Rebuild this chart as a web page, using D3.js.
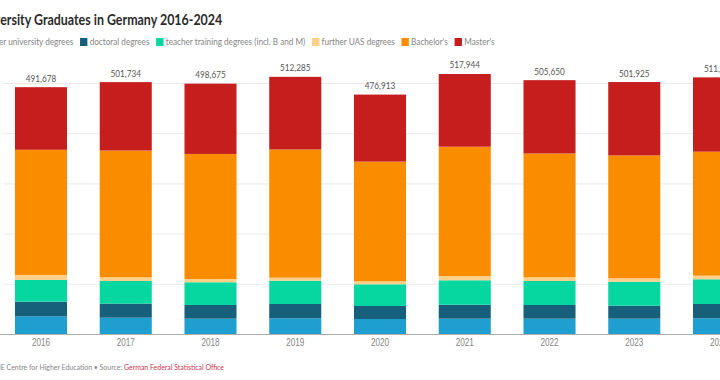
<!DOCTYPE html>
<html>
  <head>
    <meta charset="utf-8">
    <title>University Graduates in Germany 2016-2024</title>
    <script src="https://d3js.org/d3.v7.min.js"></script>
    <style>
      body { margin: 0; background: #fff; }
      svg { display: block; font-family: Lato, "Open Sans", sans-serif; }
      .grid line { stroke: #e8e8e8; }
      .grid .domain { display: none; }
      .xAxis .domain { stroke: #a8a8a8; }
      .xAxis text { fill: #858585; font-size: 10px; }
    </style>
  </head>
  <body>
    <!-- chart is drawn in a wider virtual space and squeezed into 720px -->
    <svg id="chart" width="720" height="380" viewBox="0 0 880 380" preserveAspectRatio="none">
      <g id="gridGroup"></g>
      <g id="barGroup"></g>
      <g id="axisGroup"></g>
      <g id="labelGroup"></g>
      <g id="legendGroup"></g>
    </svg>
    <script>
      // data
      years = ["2016", "2017", "2018", "2019", "2020", "2021", "2022", "2023", "2024"];
      otherUni   = [35300, 32500, 30500, 31300, 29900, 30500, 30500, 30500, 31300];
      doctoral   = [29100, 27900, 27300, 28500, 25900, 27900, 27300, 25900, 28500];
      teacher    = [43200, 45200, 45200, 46400, 43200, 48600, 47800, 47800, 49200];
      furtherUAS = [10000, 7400, 6600, 6000, 6000, 8600, 7400, 6800, 7200];
      bachelor   = [249378, 252434, 249075, 255485, 238413, 257544, 246650, 244725, 247000];
      master     = [124700, 136300, 140000, 144600, 133500, 144800, 146000, 146200, 148000];
      totals     = [491678, 501734, 498675, 512285, 476913, 517944, 505650, 501925, 511200];
      seriesNames = ["other university degrees", "doctoral degrees", "teacher training degrees (incl. B and M)", "further UAS degrees", "Bachelor's", "Master's"];
      seriesColors = ["#1f9fcf", "#17607c", "#06d6a0", "#ffd08a", "#fa8c00", "#c61d1d"];
      yTicks = [0, 100000, 200000, 300000, 400000, 500000];

      keys = ["otherUni", "doctoral", "teacher", "furtherUAS", "bachelor", "master"];
      rows = years.map(function(yr, i) {
        return {
          year: yr,
          otherUni: otherUni[i],
          doctoral: doctoral[i],
          teacher: teacher[i],
          furtherUAS: furtherUAS[i],
          bachelor: bachelor[i],
          master: master[i],
          total: totals[i]
        };
      });

      chart = d3.select("#chart");
      gridGroup = d3.select("#gridGroup");
      barGroup = d3.select("#barGroup");
      axisGroup = d3.select("#axisGroup");
      labelGroup = d3.select("#labelGroup");
      legendGroup = d3.select("#legendGroup");

      x = d3.scaleBand()
        .domain(years)
        .range([-1.7, 930.6])
        .paddingInner(0.386)
        .paddingOuter(0.193);
      y = d3.scaleLinear()
        .domain([0, 500000])
        .range([334, 83]);
      color = d3.scaleOrdinal().domain(keys).range(seriesColors);

      // gridlines
      gridGroup
        .attr("class", "grid")
        .attr("transform", "translate(3.7, 0)")
        .call(d3.axisLeft(y).tickValues(yTicks).tickSizeInner(-960).tickSizeOuter(0).tickFormat(""));

      // stacked bars
      stacked = d3.stack().keys(keys)(rows);
      barGroup.selectAll("g")
        .data(stacked)
        .enter().append("g")
          .attr("fill", function(d) { return color(d.key); })
        .selectAll("rect")
        .data(function(d) { return d; })
        .enter().append("rect")
          .attr("x", function(d) { return x(d.data.year); })
          .attr("width", x.bandwidth())
          .attr("y", function(d) { return y(d[1]); })
          .attr("height", function(d) { return y(d[0]) - y(d[1]); });

      // x axis
      axisGroup
        .attr("class", "xAxis")
        .attr("transform", "translate(0, " + y(0) + ")")
        .call(d3.axisBottom(x).tickSize(0).tickPadding(5));

      // totals on top
      fmt = d3.format(",");
      labelGroup.selectAll("text")
        .data(rows)
        .enter().append("text")
          .attr("x", function(d) { return x(d.year) + x.bandwidth() / 2; })
          .attr("y", function(d) { return y(d.total) - 5.5; })
          .attr("text-anchor", "middle")
          .attr("fill", "#555")
          .attr("font-size", "10px")
          .text(function(d) { return fmt(d.total); });

      // title (starts left of the visible area)
      title = chart.append("text")
        .attr("y", 25)
        .attr("font-size", "15.2px")
        .attr("font-weight", "bold")
        .attr("fill", "#2b2b2b")
        .text("University Graduates in Germany 2016-2024");
      probe = chart.append("text").attr("font-size", "15.2px").attr("font-weight", "bold").text("Univ");
      title.attr("x", 0.5 - probe.node().getComputedTextLength());
      probe.remove();

      // legend
      items = legendGroup.selectAll("g")
        .data(seriesNames)
        .enter().append("g");
      items.append("rect")
        .attr("width", 9)
        .attr("height", 8)
        .attr("y", 38)
        .attr("fill", function(d, i) { return seriesColors[i]; });
      items.append("text")
        .attr("x", 11.8)
        .attr("y", 45.5)
        .attr("font-size", "10px")
        .attr("fill", "#858585")
        .text(function(d) { return d; });
      pos = 0;
      offsets = [];
      items.each(function() {
        offsets.push(pos);
        pos += 11.8 + d3.select(this).select("text").node().getComputedTextLength() + 8.2;
      });
      shift = 97.8 - offsets[1];
      items.attr("transform", function(d, i) { return "translate(" + (offsets[i] + shift) + ", 0)"; });

      // footer
      footer = chart.append("text")
        .attr("y", 370)
        .attr("font-size", "8.5px")
        .attr("fill", "#858585");
      footer.append("tspan").text("Chart: CHE Centre for Higher Education • Source: ");
      footer.append("tspan").attr("fill", "#c8374f").text("German Federal Statistical Office");
      probe = chart.append("text").attr("font-size", "8.5px").text("Chart: CH");
      footer.attr("x", 1 - probe.node().getComputedTextLength());
      probe.remove();
    </script>
  </body>
</html>
